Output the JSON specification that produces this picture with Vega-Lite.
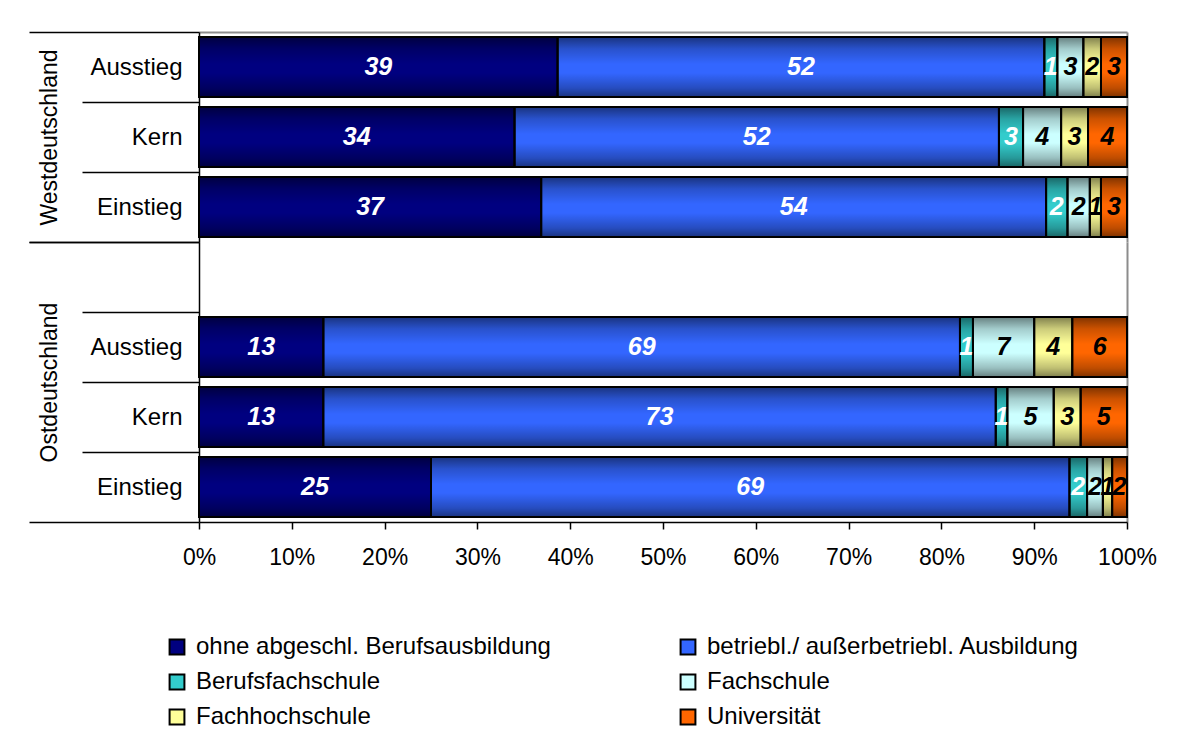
{
  "$schema": "https://vega.github.io/schema/vega-lite/v6.json",
  "autosize": {"type": "pad"},
  "padding": {"left": 28, "top": 20, "right": 0, "bottom": 0},
  "background": "white",
  "bounds": "flush",
  "data": {
    "values": [
      {"region": "Westdeutschland", "stufe": "Ausstieg", "abschluss": "ohne abgeschl. Berufsausbildung", "order": 1, "pct": 38.6},
      {"region": "Westdeutschland", "stufe": "Ausstieg", "abschluss": "betriebl./ außerbetriebl. Ausbildung", "order": 2, "pct": 52.4},
      {"region": "Westdeutschland", "stufe": "Ausstieg", "abschluss": "Berufsfachschule", "order": 3, "pct": 1.4},
      {"region": "Westdeutschland", "stufe": "Ausstieg", "abschluss": "Fachschule", "order": 4, "pct": 2.8},
      {"region": "Westdeutschland", "stufe": "Ausstieg", "abschluss": "Fachhochschule", "order": 5, "pct": 1.9},
      {"region": "Westdeutschland", "stufe": "Ausstieg", "abschluss": "Universität", "order": 6, "pct": 2.8},
      {"region": "Westdeutschland", "stufe": "Kern", "abschluss": "ohne abgeschl. Berufsausbildung", "order": 1, "pct": 34.0},
      {"region": "Westdeutschland", "stufe": "Kern", "abschluss": "betriebl./ außerbetriebl. Ausbildung", "order": 2, "pct": 52.2},
      {"region": "Westdeutschland", "stufe": "Kern", "abschluss": "Berufsfachschule", "order": 3, "pct": 2.6},
      {"region": "Westdeutschland", "stufe": "Kern", "abschluss": "Fachschule", "order": 4, "pct": 4.1},
      {"region": "Westdeutschland", "stufe": "Kern", "abschluss": "Fachhochschule", "order": 5, "pct": 2.9},
      {"region": "Westdeutschland", "stufe": "Kern", "abschluss": "Universität", "order": 6, "pct": 4.2},
      {"region": "Westdeutschland", "stufe": "Einstieg", "abschluss": "ohne abgeschl. Berufsausbildung", "order": 1, "pct": 36.8},
      {"region": "Westdeutschland", "stufe": "Einstieg", "abschluss": "betriebl./ außerbetriebl. Ausbildung", "order": 2, "pct": 54.3},
      {"region": "Westdeutschland", "stufe": "Einstieg", "abschluss": "Berufsfachschule", "order": 3, "pct": 2.3},
      {"region": "Westdeutschland", "stufe": "Einstieg", "abschluss": "Fachschule", "order": 4, "pct": 2.4},
      {"region": "Westdeutschland", "stufe": "Einstieg", "abschluss": "Fachhochschule", "order": 5, "pct": 1.2},
      {"region": "Westdeutschland", "stufe": "Einstieg", "abschluss": "Universität", "order": 6, "pct": 2.8},
      {"region": "Ostdeutschland", "stufe": "Ausstieg", "abschluss": "ohne abgeschl. Berufsausbildung", "order": 1, "pct": 13.4},
      {"region": "Ostdeutschland", "stufe": "Ausstieg", "abschluss": "betriebl./ außerbetriebl. Ausbildung", "order": 2, "pct": 68.6},
      {"region": "Ostdeutschland", "stufe": "Ausstieg", "abschluss": "Berufsfachschule", "order": 3, "pct": 1.4},
      {"region": "Ostdeutschland", "stufe": "Ausstieg", "abschluss": "Fachschule", "order": 4, "pct": 6.6},
      {"region": "Ostdeutschland", "stufe": "Ausstieg", "abschluss": "Fachhochschule", "order": 5, "pct": 4.1},
      {"region": "Ostdeutschland", "stufe": "Ausstieg", "abschluss": "Universität", "order": 6, "pct": 5.9},
      {"region": "Ostdeutschland", "stufe": "Kern", "abschluss": "ohne abgeschl. Berufsausbildung", "order": 1, "pct": 13.4},
      {"region": "Ostdeutschland", "stufe": "Kern", "abschluss": "betriebl./ außerbetriebl. Ausbildung", "order": 2, "pct": 72.5},
      {"region": "Ostdeutschland", "stufe": "Kern", "abschluss": "Berufsfachschule", "order": 3, "pct": 1.25},
      {"region": "Ostdeutschland", "stufe": "Kern", "abschluss": "Fachschule", "order": 4, "pct": 5.0},
      {"region": "Ostdeutschland", "stufe": "Kern", "abschluss": "Fachhochschule", "order": 5, "pct": 2.9},
      {"region": "Ostdeutschland", "stufe": "Kern", "abschluss": "Universität", "order": 6, "pct": 5.0},
      {"region": "Ostdeutschland", "stufe": "Einstieg", "abschluss": "ohne abgeschl. Berufsausbildung", "order": 1, "pct": 25.0},
      {"region": "Ostdeutschland", "stufe": "Einstieg", "abschluss": "betriebl./ außerbetriebl. Ausbildung", "order": 2, "pct": 68.8},
      {"region": "Ostdeutschland", "stufe": "Einstieg", "abschluss": "Berufsfachschule", "order": 3, "pct": 1.9},
      {"region": "Ostdeutschland", "stufe": "Einstieg", "abschluss": "Fachschule", "order": 4, "pct": 1.7},
      {"region": "Ostdeutschland", "stufe": "Einstieg", "abschluss": "Fachhochschule", "order": 5, "pct": 1.0},
      {"region": "Ostdeutschland", "stufe": "Einstieg", "abschluss": "Universität", "order": 6, "pct": 1.6}
    ]
  },
  "transform": [
    {"stack": "pct", "groupby": ["region", "stufe"], "sort": [{"field": "order", "order": "ascending"}], "offset": "normalize", "as": ["x0", "x1"]},
    {"calculate": "(datum.x0 + datum.x1) / 2", "as": "xm"}
  ],
  "spacing": 0,
  "vconcat": [
    {
      "width": 928,
      "height": 210,
      "transform": [{"filter": "datum.region === 'Westdeutschland'"}],
      "encoding": {
        "y": {
          "field": "stufe", "type": "nominal",
          "scale": {"domain": ["Ausstieg", "Kern", "Einstieg"], "paddingInner": 0, "paddingOuter": 0},
          "axis": {
            "title": "Westdeutschland",
            "titleX": -150, "titleY": 105, "titleAngle": 270, "titleAlign": "center", "titleBaseline": "middle",
            "tickBand": "extent",
            "tickSize": {"condition": {"test": "datum.value === 'Einstieg' || datum.extra", "value": 170}, "value": 117},
            "labelPadding": {"condition": {"test": "datum.value === 'Einstieg' || datum.extra", "value": -153}, "value": -100},
            "grid": true,
            "gridColor": {"condition": {"test": "datum.extra", "value": "#8c8c8c"}, "value": "transparent"},
            "gridWidth": 2
          }
        }
      },
      "layer": [
        {
          "mark": {"type": "bar", "height": {"band": 0.86}},
          "encoding": {
            "x": {"field": "x0", "type": "quantitative", "scale": {"domain": [0, 1]},
              "axis": {"title": null, "labels": false, "ticks": false, "domain": false, "grid": true, "values": [0, 1],
                "gridColor": {"condition": {"test": "datum.value === 1", "value": "#8c8c8c"}, "value": "transparent"}, "gridWidth": 2}},
            "x2": {"field": "x1"},
            "color": {"field": "abschluss", "type": "nominal",
              "scale": {"domain": ["ohne abgeschl. Berufsausbildung", "Berufsfachschule", "Fachhochschule", "betriebl./ außerbetriebl. Ausbildung", "Fachschule", "Universität"],
                        "range": ["#000080", "#33cccc", "#ffff99", "#3366ff", "#ccffff", "#ff6600"]},
              "legend": {"orient": "none", "legendX": -34, "legendY": 603, "columns": 2, "title": null, "columnPadding": 125, "rowPadding": 11, "labelLimit": 0}}
          }
        },
        {
          "mark": {"type": "bar", "height": {"band": 0.86}, "stroke": "black", "strokeWidth": 2,
            "fill": {"gradient": "linear", "x1": 0, "y1": 0, "x2": 0, "y2": 1,
              "stops": [
                {"offset": 0, "color": "rgba(0,0,0,0.5)"},
                {"offset": 0.2, "color": "rgba(0,0,0,0.2)"},
                {"offset": 0.45, "color": "rgba(0,0,0,0)"},
                {"offset": 0.6, "color": "rgba(0,0,0,0)"},
                {"offset": 0.85, "color": "rgba(0,0,0,0.25)"},
                {"offset": 1, "color": "rgba(0,0,0,0.5)"}
              ]}},
          "encoding": {"x": {"field": "x0", "type": "quantitative"}, "x2": {"field": "x1"}}
        },
        {
          "mark": {"type": "text", "fontSize": 25, "fontWeight": "bold", "fontStyle": "italic"},
          "encoding": {
            "x": {"field": "xm", "type": "quantitative"},
            "text": {"field": "pct", "type": "quantitative", "format": ".0f"},
            "color": {"condition": {"test": "datum.order <= 3", "value": "white"}, "value": "black"}
          }
        }
      ]
    },
    {
      "width": 928,
      "height": 280,
      "transform": [{"filter": "datum.region === 'Ostdeutschland'"}],
      "encoding": {
        "y": {
          "field": "stufe", "type": "nominal",
          "scale": {"domain": [" ", "Ausstieg", "Kern", "Einstieg"], "paddingInner": 0, "paddingOuter": 0},
          "axis": {
            "title": "Ostdeutschland",
            "titleX": -150, "titleY": 140, "titleAngle": 270, "titleAlign": "center", "titleBaseline": "middle",
            "tickBand": "extent",
            "tickSize": {"condition": {"test": "datum.value === 'Einstieg' || datum.extra", "value": 170}, "value": 117},
            "labelPadding": {"condition": {"test": "datum.value === 'Einstieg' || datum.extra", "value": -153}, "value": -100}
          }
        }
      },
      "layer": [
        {
          "mark": {"type": "bar", "height": {"band": 0.86}},
          "encoding": {
            "x": {"field": "x0", "type": "quantitative", "scale": {"domain": [0, 1]},
              "axis": {"title": null, "format": ".0%", "values": [0, 0.1, 0.2, 0.3, 0.4, 0.5, 0.6, 0.7, 0.8, 0.9, 1],
                "labelFlush": false, "tickSize": 7, "labelPadding": 17, "labelFontSize": 23,
                "grid": true, "gridColor": {"condition": {"test": "datum.value === 1", "value": "#8c8c8c"}, "value": "transparent"}, "gridWidth": 2}},
            "x2": {"field": "x1"},
            "color": {"field": "abschluss", "type": "nominal"}
          }
        },
        {
          "mark": {"type": "bar", "height": {"band": 0.86}, "stroke": "black", "strokeWidth": 2,
            "fill": {"gradient": "linear", "x1": 0, "y1": 0, "x2": 0, "y2": 1,
              "stops": [
                {"offset": 0, "color": "rgba(0,0,0,0.5)"},
                {"offset": 0.2, "color": "rgba(0,0,0,0.2)"},
                {"offset": 0.45, "color": "rgba(0,0,0,0)"},
                {"offset": 0.6, "color": "rgba(0,0,0,0)"},
                {"offset": 0.85, "color": "rgba(0,0,0,0.25)"},
                {"offset": 1, "color": "rgba(0,0,0,0.5)"}
              ]}},
          "encoding": {"x": {"field": "x0", "type": "quantitative"}, "x2": {"field": "x1"}}
        },
        {
          "mark": {"type": "text", "fontSize": 25, "fontWeight": "bold", "fontStyle": "italic"},
          "encoding": {
            "x": {"field": "xm", "type": "quantitative"},
            "text": {"field": "pct", "type": "quantitative", "format": ".0f"},
            "color": {"condition": {"test": "datum.order <= 3", "value": "white"}, "value": "black"}
          }
        }
      ]
    }
  ],
  "config": {
    "font": "Liberation Sans",
    "view": {"stroke": null},
    "axis": {
      "domainColor": "black", "domainWidth": 1.5, "tickColor": "black", "tickWidth": 1.5,
      "labelColor": "black", "labelFontSize": 24, "labelFont": "Liberation Sans",
      "titleColor": "black", "titleFontSize": 23, "titleFontWeight": "normal", "titleFont": "Liberation Sans"
    },
    "legend": {
      "labelFontSize": 24, "labelColor": "black", "labelFont": "Liberation Sans", "labelOffset": 7,
      "symbolType": "square", "symbolSize": 220, "symbolStrokeColor": "black", "symbolStrokeWidth": 2
    }
  }
}
